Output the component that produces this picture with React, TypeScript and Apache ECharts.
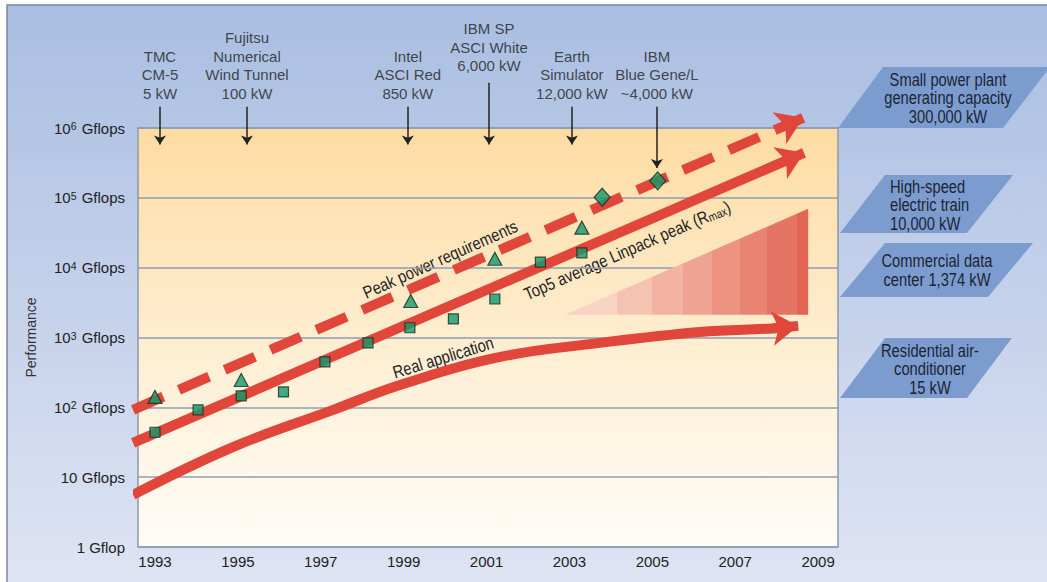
import React, { useEffect, useRef } from "react";
import * as echarts from "echarts";

const FONT = "'Liberation Sans', Arial, sans-serif";
const RED = "#e1463a";
const GREEN = "#129a6c";
const AX_FS = 15;

// x-axis tick labels
const yearTicks = [1993, 1995, 1997, 1999, 2001, 2003, 2005, 2007, 2009];

// Top5 average Linpack Rmax (squares)
const rmaxYears = [1993.0, 1994.04, 1995.08, 1996.1, 1997.1, 1998.14, 1999.15, 2000.2, 2001.2, 2002.3, 2003.3];
const rmaxValues = [44, 92, 146, 166, 447, 835, 1380, 1850, 3560, 12000, 16300];

// Peak (triangles)
const peakYears = [1993.0, 1995.08, 1999.17, 2001.2, 2003.3];
const peakValues = [141, 246, 3330, 13400, 37400];

// Blue Gene (diamonds)
const bgYears = [2003.79, 2005.13];
const bgValues = [102000, 175000];

// Trend arrows (end = arrow tip)
const peakTrendYears = [1992.47, 2008.64];
const peakTrendValues = [92, 1400000];
const rmaxTrendYears = [1992.47, 2008.66];
const rmaxTrendValues = [31, 441000];
const realYears = [1992.47, 1994.88, 1997.3, 1998.91, 2001.33, 2003.74, 2006.15, 2007.91, 2008.2];
const realValues = [5.6, 27, 92, 209, 527, 837, 1202, 1350, 1405];
const realTipYear = 2008.52;
const realTipValue = 1466;

// Machines annotated at top
const machineNames = [
  "TMC\nCM-5\n5 kW",
  "Fujitsu\nNumerical\nWind Tunnel\n100 kW",
  "Intel\nASCI Red\n850 kW",
  "IBM SP\nASCI White\n6,000 kW",
  "Earth\nSimulator\n12,000 kW",
  "IBM\nBlue Gene/L\n~4,000 kW",
];
const machineYears = [1993.12, 1995.22, 1999.1, 2001.06, 2003.06, 2005.11];
const machineArrowFrom = [2.01e6, 2.01e6, 2.01e6, 4.45e6, 2.01e6, 2.01e6];
const machineArrowTo = [580000, 580000, 580000, 580000, 580000, 268000];

// Efficiency gap wedge
const gapStartYear = 2002.89;
const gapEndYear = 2008.76;
const gapBase = 2109;
const gapTop = 69500;

// Power references (right)
const refLabels = [
  "Small power plant\ngenerating capacity\n300,000 kW",
  "High-speed\nelectric train\n10,000 kW",
  "Commercial data\ncenter 1,374 kW",
  "Residential air-\nconditioner\n15 kW",
];

function buildOption() {
  const lg = echarts.graphic.LinearGradient;
  const bandColors = ["#f8d2c2", "#f5c3b2", "#f2b3a2", "#efa392", "#ec9382", "#e98473", "#e67464", "#e26554"];
  const bandEdges = [0, 0.214, 0.358, 0.486, 0.605, 0.72, 0.831, 0.955, 1];
  const stops: any[] = [];
  bandColors.forEach((c, i) => {
    stops.push({ offset: bandEdges[i], color: c });
    stops.push({ offset: bandEdges[i + 1], color: c });
  });
  const gapFill = new lg(0, 0, 1, 0, stops);

  const boxes = [
    { pts: [[838, 128], [883, 67], [1050, 67], [1003, 128]], tx: 948, ty: 98, align: "center" },
    { pts: [[840, 233], [885, 175], [1013, 175], [967, 233]], tx: 890, ty: 205, align: "left" },
    { pts: [[840, 297], [885, 243], [1033, 243], [988, 297]], tx: 937, ty: 270, align: "center" },
    { pts: [[840, 398], [885, 338], [1012, 338], [967, 398]], tx: 930, ty: 369, align: "center" },
  ];

  const txt = (text: string, x: number, y: number, rotDeg = 0, extra: any = {}) => ({
    type: "text",
    x,
    y,
    scaleX: 0.84,
    rotation: (rotDeg * Math.PI) / 180,
    style: {
      text,
      fontSize: 17.5,
      fontFamily: FONT,
      fill: "#222",
      align: "center",
      verticalAlign: "middle",
      lineHeight: 18.5,
      ...extra,
    },
  });

  const graphic: any[] = [
    {
      type: "rect",
      z: -10,
      shape: { x: 7, y: 5, width: 1045, height: 582 },
      style: {
        fill: new lg(0, 0, 0, 1, [
          { offset: 0, color: "#a9bee1" },
          { offset: 1, color: "#dfe4f4" },
        ]),
        stroke: "#7d8794",
        lineWidth: 1.5,
      },
    },
  ];
  boxes.forEach((b, i) => {
    graphic.push({ type: "polygon", shape: { points: b.pts }, style: { fill: "#7c9cd0" } });
    graphic.push(txt(refLabels[i], b.tx, b.ty, 0, { align: b.align, fill: "#1c2430" }));
  });
  graphic.push(txt("Peak power requirements", 440, 259, 24));
  graphic.push(
    txt("", 627, 250, 23.5, {
      text: "{a|Top5 average Linpack peak (R}{s|max}{a|)}",
      rich: {
        a: { fontSize: 17.5, fontFamily: FONT, fill: "#222" },
        s: { fontSize: 12, fontFamily: FONT, fill: "#222", verticalAlign: "bottom" },
      },
    })
  );
  graphic.push(txt("Real application", 443, 357, 17));
  graphic.push(txt("Efficiency\ngap", 758, 277, 0, { lineHeight: 19 }));

  return {
    animation: false,
    graphic,
    grid: {
      left: 138,
      top: 128,
      width: 700,
      height: 419,
      show: true,
      borderColor: "#8c99a8",
      borderWidth: 1.5,
      backgroundColor: new lg(0, 0, 0, 1, [
        { offset: 0, color: "#fddca2" },
        { offset: 0.5, color: "#feedd0" },
        { offset: 1, color: "#fffdf8" },
      ]),
    },
    xAxis: {
      type: "value",
      min: 1992.59,
      max: 2009.48,
      axisLine: { show: false },
      axisTick: { show: false },
      splitLine: { show: false },
      axisLabel: {
        customValues: yearTicks,
        formatter: (v: number) => String(Math.round(v)),
        fontSize: AX_FS,
        fontFamily: FONT,
        color: "#222",
        margin: 7,
      },
    },
    yAxis: {
      type: "log",
      logBase: 10,
      min: 1,
      max: 1e6,
      splitNumber: 6,
      name: "Performance",
      nameLocation: "middle",
      nameGap: 100,
      nameRotate: 90,
      nameTextStyle: { fontSize: 14, fontFamily: FONT, color: "#333" },
      axisLine: { show: false },
      axisTick: { show: false },
      splitLine: { show: true, lineStyle: { color: "#8e9cb0", width: 1.5 } },
      axisLabel: {
        margin: 13,
        formatter: (v: number) => {
          const e = Math.round(Math.log10(v));
          if (e === 0) return "{a|1 Gflop}";
          if (e === 1) return "{a|10 Gflops}";
          return `{a|10}{s|${e}}{a| Gflops}`;
        },
        rich: {
          a: { fontSize: AX_FS, fontFamily: FONT, color: "#222" },
          s: { fontSize: 10.5, fontFamily: FONT, color: "#222", verticalAlign: "top", padding: [0, 1, 0, 0] },
        },
      },
    },
    series: [
      {
        type: "custom",
        silent: true,
        clip: false,
        data: [0],
        renderItem: (_p: any, api: any) => {
          const a = api.coord([gapStartYear, gapBase]);
          const b = api.coord([gapEndYear, gapTop]);
          const c = api.coord([gapEndYear, gapBase]);
          return { type: "polygon", shape: { points: [a, b, c] }, style: { fill: gapFill } };
        },
      },
      {
        type: "line",
        data: realYears.map((y, i) => [y, realValues[i]]),
        smooth: 0.4,
        showSymbol: false,
        clip: false,
        lineStyle: { color: RED, width: 10 },
      },
      {
        type: "lines",
        coordinateSystem: "cartesian2d",
        clip: false,
        symbol: ["none", "arrow"],
        symbolSize: [20, 26],
        lineStyle: { color: RED, width: 10, opacity: 1 },
        data: [{ coords: [[realYears[7], realValues[7]], [realTipYear, realTipValue]] }],
      },
      {
        type: "lines",
        coordinateSystem: "cartesian2d",
        clip: false,
        symbol: ["none", "arrow"],
        symbolSize: [21, 26],
        lineStyle: { color: RED, width: 10, opacity: 1, type: [33, 17], cap: "butt" },
        data: [
          { coords: [[peakTrendYears[0], peakTrendValues[0]], [peakTrendYears[1], peakTrendValues[1]]] },
        ],
      },
      {
        type: "lines",
        coordinateSystem: "cartesian2d",
        clip: false,
        symbol: ["none", "arrow"],
        symbolSize: [21, 26],
        lineStyle: { color: RED, width: 10, opacity: 1 },
        data: [
          { coords: [[rmaxTrendYears[0], rmaxTrendValues[0]], [rmaxTrendYears[1], rmaxTrendValues[1]]] },
        ],
      },
      {
        type: "lines",
        coordinateSystem: "cartesian2d",
        clip: false,
        symbol: ["none", "arrow"],
        symbolSize: [6, 9],
        lineStyle: { color: "#222", width: 1.5, opacity: 1 },
        data: machineYears.map((y, i) => ({ coords: [[y, machineArrowFrom[i]], [y, machineArrowTo[i]]] })),
      },
      {
        type: "scatter",
        clip: false,
        silent: true,
        symbolSize: 1,
        itemStyle: { color: "rgba(0,0,0,0)" },
        label: {
          show: true,
          position: "top",
          distance: 4,
          formatter: "{b}",
          fontSize: AX_FS,
          fontFamily: FONT,
          color: "#222",
          lineHeight: 18.5,
        },
        data: machineYears.map((y, i) => ({
          name: machineNames[i],
          value: [y, machineArrowFrom[i]],
          label: i === 3 ? { distance: 7 } : undefined,
        })),
      },
      {
        type: "scatter",
        symbol: "rect",
        symbolSize: 10,
        itemStyle: { color: GREEN, borderColor: "#1b2a22", borderWidth: 1.2 },
        data: rmaxYears.map((y, i) => [y, rmaxValues[i]]),
      },
      {
        type: "scatter",
        symbol: "triangle",
        symbolSize: [14, 13],
        itemStyle: { color: GREEN, borderColor: "#1b2a22", borderWidth: 1.2 },
        data: peakYears.map((y, i) => [y, peakValues[i]]),
      },
      {
        type: "scatter",
        symbol: "diamond",
        symbolSize: [16, 18],
        itemStyle: { color: GREEN, borderColor: "#1b2a22", borderWidth: 1.2 },
        data: bgYears.map((y, i) => [y, bgValues[i]]),
      },
    ],
  };
}

export default function App() {
  const ref = useRef<HTMLDivElement>(null);
  useEffect(() => {
    const chart = echarts.init(ref.current!, undefined, { renderer: "svg" });
    chart.setOption(buildOption() as any);
    return () => chart.dispose();
  }, []);
  return (
    <div
      ref={ref}
      style={{ position: "absolute", left: 0, top: 0, width: 1047, height: 582, background: "#fff" }}
    />
  );
}
